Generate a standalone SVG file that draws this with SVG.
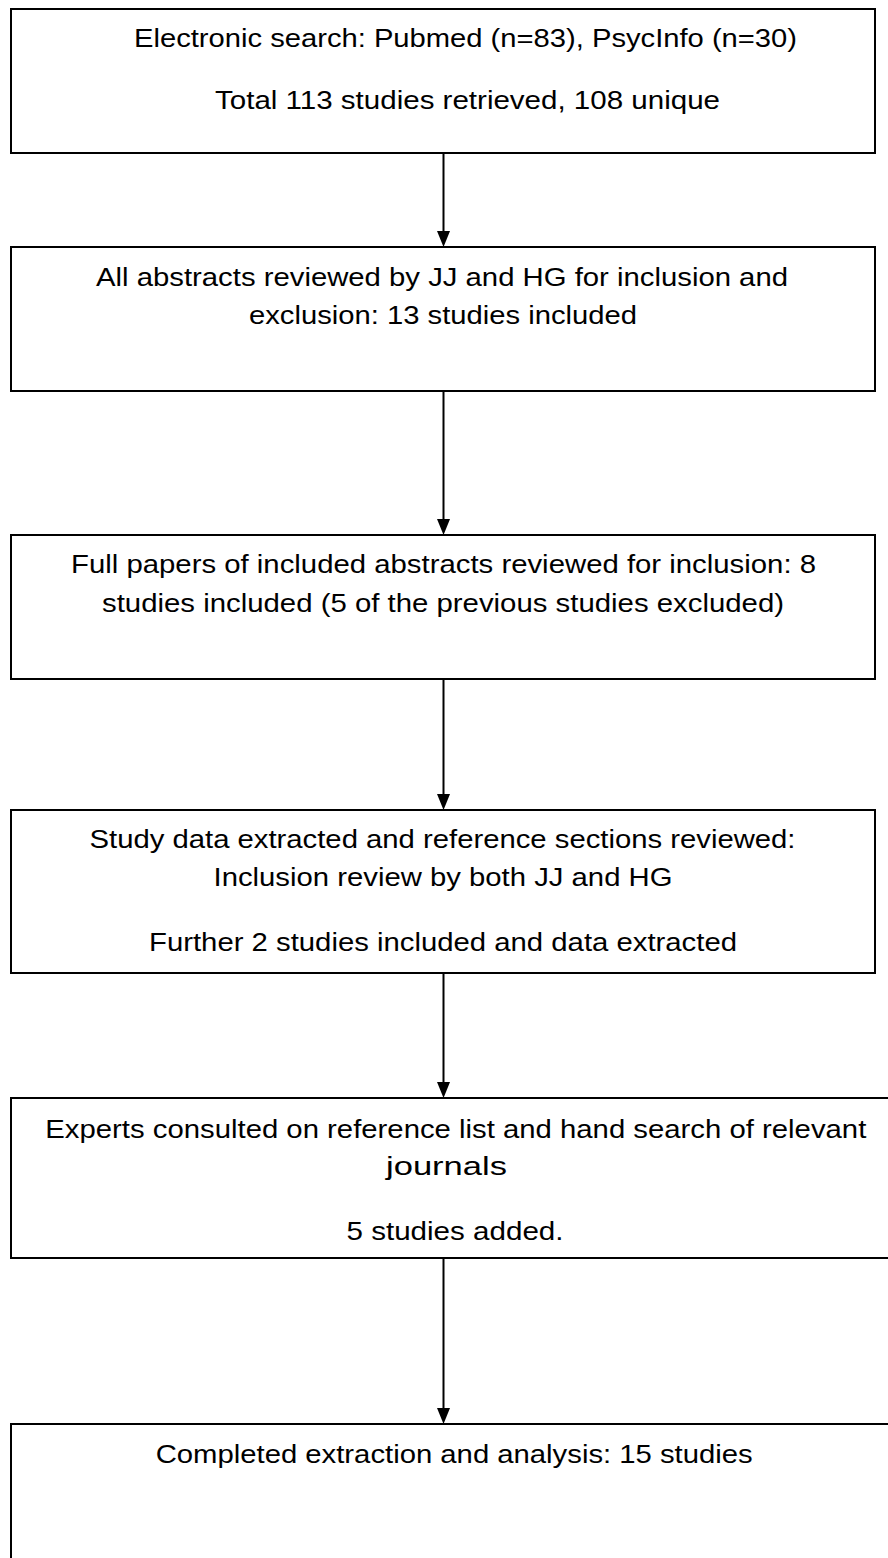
<svg xmlns="http://www.w3.org/2000/svg" width="888" height="1558" viewBox="0 0 888 1558">
<style>
.box{fill:#ffffff;stroke:#000000;stroke-width:2}
.t{font-family:"Liberation Sans",Arial,sans-serif;font-size:25px;fill:#000000}
.conn{stroke:#000000;stroke-width:2;fill:none}
</style>
<defs>
<marker id="ah" markerUnits="userSpaceOnUse" markerWidth="16" markerHeight="13" refX="1" refY="6.5" orient="auto">
<path d="M0,0 L16,6.5 L0,13 z" fill="#000000"/>
</marker>
</defs>
<rect x="0" y="0" width="888" height="1558" fill="#ffffff"/>
<g id="connectors">
<line class="conn" x1="443.5" y1="153" x2="443.5" y2="232" marker-end="url(#ah)"/>
<line class="conn" x1="443.5" y1="391" x2="443.5" y2="520" marker-end="url(#ah)"/>
<line class="conn" x1="443.5" y1="679" x2="443.5" y2="795" marker-end="url(#ah)"/>
<line class="conn" x1="443.5" y1="973" x2="443.5" y2="1083" marker-end="url(#ah)"/>
<line class="conn" x1="443.5" y1="1258" x2="443.5" y2="1409" marker-end="url(#ah)"/>
</g>
<g id="node1">
<rect class="box" x="11" y="9" width="864" height="144"/>
<text class="t" x="134" y="47" textLength="663" lengthAdjust="spacingAndGlyphs">Electronic search: Pubmed (n=83), PsycInfo (n=30)</text>
<text class="t" x="215" y="109" textLength="505" lengthAdjust="spacingAndGlyphs">Total 113 studies retrieved, 108 unique</text>
</g>
<g id="node2">
<rect class="box" x="11" y="247" width="864" height="144"/>
<text class="t" x="96" y="286" textLength="692" lengthAdjust="spacingAndGlyphs">All abstracts reviewed by JJ and HG for inclusion and</text>
<text class="t" x="249" y="324" textLength="388" lengthAdjust="spacingAndGlyphs">exclusion: 13 studies included</text>
</g>
<g id="node3">
<rect class="box" x="11" y="535" width="864" height="144"/>
<text class="t" x="71" y="573" textLength="745" lengthAdjust="spacingAndGlyphs">Full papers of included abstracts reviewed for inclusion: 8</text>
<text class="t" x="102" y="612" textLength="682" lengthAdjust="spacingAndGlyphs">studies included (5 of the previous studies excluded)</text>
</g>
<g id="node4">
<rect class="box" x="11" y="810" width="864" height="163"/>
<text class="t" x="89.5" y="848" textLength="706" lengthAdjust="spacingAndGlyphs">Study data extracted and reference sections reviewed:</text>
<text class="t" x="213.5" y="886" textLength="459" lengthAdjust="spacingAndGlyphs">Inclusion review by both JJ and HG</text>
<text class="t" x="149" y="951" textLength="588" lengthAdjust="spacingAndGlyphs">Further 2 studies included and data extracted</text>
</g>
<g id="node5">
<rect class="box" x="11" y="1098" width="900" height="160"/>
<text class="t" x="45.3" y="1138" textLength="821" lengthAdjust="spacingAndGlyphs">Experts consulted on reference list and hand search of relevant</text>
<text class="t" x="386" y="1175" textLength="121" lengthAdjust="spacingAndGlyphs">journals</text>
<text class="t" x="346.5" y="1240" textLength="217" lengthAdjust="spacingAndGlyphs">5 studies added.</text>
</g>
<g id="node6">
<rect class="box" x="11" y="1424" width="900" height="200"/>
<text class="t" x="155.7" y="1463" textLength="597" lengthAdjust="spacingAndGlyphs">Completed extraction and analysis: 15 studies</text>
</g>
</svg>
